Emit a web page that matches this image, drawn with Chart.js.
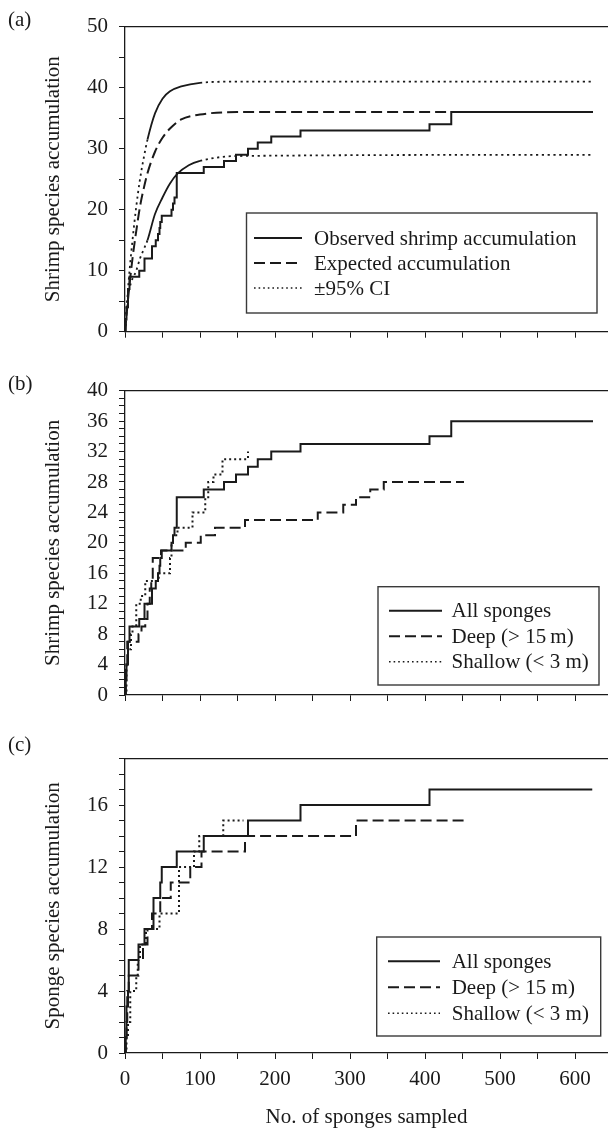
<!DOCTYPE html>
<html><head><meta charset="utf-8">
<script src="https://cdn.jsdelivr.net/npm/chart.js@4/dist/chart.umd.min.js"></script>
<style>
html,body{margin:0;padding:0;background:#fff;width:608px;height:1128px;overflow:hidden}
.wrap{position:absolute;left:0;width:608px}
canvas{display:block}
</style></head><body>
<div class="wrap" style="top:0;height:360px"><canvas id="ca"></canvas></div>
<div class="wrap" style="top:360px;height:375px"><canvas id="cb"></canvas></div>
<div class="wrap" style="top:735px;height:393px"><canvas id="cc"></canvas></div>
<script>
// ---------- DATA ----------
// Panel (a): shrimp species accumulation (observed steps; x = no. of sponges, y = species)
const obsX = [0, 1, 2, 4, 6, 19, 26, 36, 41, 44, 46, 47, 49, 62, 64, 66, 69, 105, 132, 148, 164, 177, 195, 234, 406, 435, 624];
const obsY = [0, 2, 4, 7, 9, 10, 12, 14, 15, 16, 17, 18, 19, 20, 21, 22, 26, 27, 28, 29, 30, 31, 32, 33, 34, 36, 36];
// Expected accumulation and 95% CI curves
const expX = [0, 5, 10, 15, 20, 25, 30, 40, 50, 60, 75, 100, 150, 624];
const expY = [0, 6.5, 12, 16.5, 20.5, 23.5, 26, 29.5, 31.8, 33.3, 34.8, 35.6, 36, 36];
const upX  = [0, 5, 10, 15, 20, 25, 30, 40, 50, 60, 75, 100, 150, 624];
const upY  = [0, 8.5, 15, 20.5, 25, 28.5, 31.5, 35.8, 38.2, 39.4, 40.2, 40.8, 41, 41];
const loX  = [0, 3, 8, 15, 20, 25, 30, 40, 50, 60, 70, 85, 100, 150, 624];
const loY  = [0, 5, 8, 10, 12, 13.5, 15, 19.3, 22, 24.3, 25.9, 27.3, 28, 28.8, 29];
// Panel (b): shrimp accumulation by depth
const deepX = [0, 1, 3, 18, 22, 27, 30, 33, 35, 37, 48, 81, 101, 120, 160, 257, 291, 308, 327, 345, 452];
const deepY = [0, 4, 7, 8, 9, 10, 12, 14, 15, 18, 19, 20, 21, 22, 23, 24, 25, 26, 27, 28, 28];
const shalX = [0, 2, 4, 8, 10, 15, 21, 27, 45, 60, 62, 64, 70, 90, 107, 111, 118, 130, 164];
const shalY = [0, 4, 6, 8, 9, 12, 13, 15, 16, 18, 20, 21, 22, 24, 26, 28, 29, 31, 32];
// Panel (c): sponge species accumulation
const spAllX  = [0, 1, 2, 4, 5, 18, 26, 38, 47, 49, 69, 105, 164, 234, 406, 623];
const spAllY  = [0, 1, 3, 4, 6, 7, 8, 10, 11, 12, 13, 14, 15, 16, 17, 17];
const spDeepX = [0, 1, 2, 3, 5, 18, 24, 30, 36, 47, 61, 87, 102, 160, 308, 456];
const spDeepY = [0, 1, 2, 4, 5, 6, 7, 8, 9, 10, 11, 12, 13, 14, 15, 15];
const spShalX = [0, 2, 4, 7, 15, 17, 20, 28, 46, 72, 92, 99, 131, 158];
const spShalY = [0, 1, 2, 4, 5, 6, 7, 8, 9, 12, 13, 14, 15, 15];
// Axis tick settings
const xTickStep = 50, xLabelEvery = 100;
const labelsA = ['Observed shrimp accumulation', 'Expected accumulation', '\u00b195% CI'];
const labelsBC = ['All sponges', 'Deep (> 15\u2009m)', 'Shallow (< 3 m)'];

// ---------- HELPERS ----------
const FONT = '"Liberation Serif", "Times New Roman", serif';
const INK = '#1a1a1a';
const pts = (xs, ys) => xs.map((x, i) => ({x, y: ys[i]}));
const SOLID = [], DASH = [11, 5], DOT = [2, 3];

const deco = {
  id: 'deco',
  afterDraw(chart, args, o) {
    const {ctx, chartArea: a} = chart;
    ctx.save();
    ctx.strokeStyle = INK; ctx.lineWidth = 1.3; ctx.setLineDash([]);
    ctx.beginPath(); ctx.moveTo(a.left - 0.5, a.top); ctx.lineTo(a.right, a.top); ctx.stroke();
    ctx.fillStyle = INK; ctx.font = '21px ' + FONT;
    ctx.textBaseline = 'middle'; ctx.textAlign = 'left';
    ctx.fillText(o.label, 8, o.labelY);
    const L = o.legend;
    ctx.strokeStyle = '#3a3a3a'; ctx.lineWidth = 1.4;
    ctx.strokeRect(L.x, L.y, L.w, L.h);
    L.items.forEach((it, i) => {
      const y = L.row0 + i * L.dy;
      ctx.strokeStyle = INK; ctx.lineWidth = it.w; ctx.setLineDash(it.dash);
      ctx.beginPath(); ctx.moveTo(L.sx0, y); ctx.lineTo(L.sx1, y); ctx.stroke();
      ctx.setLineDash([]);
      ctx.fillText(it.text, L.tx, y + 1);
    });
    ctx.restore();
  }
};

function axisCommon() {
  return {
    grid: {display: true, drawOnChartArea: false, drawTicks: true, tickLength: 6, color: INK, lineWidth: 1},
    border: {display: true, color: INK, width: 1.3}
  };
}

function makeChart(id, datasets, c) {
  return new Chart(document.getElementById(id), {
    type: 'line',
    data: {datasets},
    options: {
      responsive: true, maintainAspectRatio: false, animation: false, devicePixelRatio: 1,
      layout: {padding: {top: c.padTop, left: 0, right: 0, bottom: 0}},
      plugins: {legend: {display: false}, tooltip: {enabled: false}, deco: c.deco},
      elements: {point: {radius: 0}},
      scales: {
        x: Object.assign(axisCommon(), {
          type: 'linear', min: 0, max: 644,
          ticks: {stepSize: xTickStep, includeBounds: false, autoSkip: false, maxRotation: 0, padding: 8,
            color: INK, font: {family: FONT, size: 21},
            callback: v => (c.xLabels && v % xLabelEvery === 0) ? String(v) : ''},
          title: c.xTitle ? {display: true, text: c.xTitle, color: INK,
            font: {family: FONT, size: 21, lineHeight: 1}, padding: {top: 0, bottom: 0}} : {display: false},
          afterFit: s => { s.height = c.xH; }
        }),
        y: Object.assign(axisCommon(), {
          type: 'linear', min: 0, max: c.yMax,
          ticks: {stepSize: c.yStep, includeBounds: false, autoSkip: false, padding: 11,
            color: INK, font: {family: FONT, size: 21},
            callback: v => (v % c.yEvery === 0) ? String(v) : ''},
          title: {display: true, text: c.yTitle, color: INK,
            font: {family: FONT, size: 21, lineHeight: 1.2}, padding: {top: 41, bottom: 0}},
          afterFit: s => { s.width = 125; }
        })
      }
    },
    plugins: [deco]
  });
}

function stepDs(label, xs, ys, dash, w) {
  return {label, data: pts(xs, ys), stepped: true, borderColor: INK, borderWidth: w,
    borderDash: dash, fill: false, pointRadius: 0};
}
function curveDs(label, xs, ys, dash, w, solidFrom, solidTo) {
  const ds = {label, data: pts(xs, ys), borderColor: INK, borderWidth: w, borderDash: dash,
    cubicInterpolationMode: 'monotone', fill: false, pointRadius: 0};
  if (solidFrom !== undefined) {
    ds.segment = {borderDash: ctx => (ctx.p0.parsed.x >= solidFrom && ctx.p1.parsed.x <= solidTo) ? [] : dash};
  }
  return ds;
}

// Panel (a)
makeChart('ca', [
  stepDs(labelsA[0], obsX, obsY, SOLID, 2),
  curveDs(labelsA[1], expX, expY, DASH, 2),
  curveDs(labelsA[2], upX, upY, [2.2, 3.6], 1.8, 30, 100),
  curveDs(labelsA[2], loX, loY, [2.2, 3.6], 1.8, 30, 100)
], {padTop: 26.7, xH: 28.3, yMax: 50, yStep: 5, yEvery: 10, xLabels: false,
  yTitle: 'Shrimp species accumulation',
  deco: {label: '(a)', labelY: 20, legend: {x: 246.5, y: 213, w: 350.5, h: 100, row0: 238, dy: 25,
    sx0: 254, sx1: 302, tx: 314,
    items: [{text: labelsA[0], dash: SOLID, w: 2}, {text: labelsA[1], dash: DASH, w: 2}, {text: labelsA[2], dash: [1.6, 3], w: 1.5}]}}});

// Panel (b)
makeChart('cb', [
  stepDs(labelsBC[0], obsX, obsY, SOLID, 2),
  stepDs(labelsBC[1], deepX, deepY, DASH, 2),
  stepDs(labelsBC[2], shalX, shalY, DOT, 2)
], {padTop: 30.7, xH: 40, yMax: 40, yStep: 1, yEvery: 4, xLabels: false,
  yTitle: 'Shrimp species accumulation',
  deco: {label: '(b)', labelY: 24, legend: {x: 378, y: 226.7, w: 221, h: 98.3, row0: 250.7, dy: 25.5,
    sx0: 389, sx1: 442, tx: 451.5,
    items: [{text: labelsBC[0], dash: SOLID, w: 2}, {text: labelsBC[1], dash: DASH, w: 2}, {text: labelsBC[2], dash: [1.6, 3], w: 1.5}]}}});

// Panel (c)
makeChart('cc', [
  stepDs(labelsBC[0], spAllX, spAllY, SOLID, 2),
  stepDs(labelsBC[1], spDeepX, spDeepY, DASH, 2),
  stepDs(labelsBC[2], spShalX, spShalY, DOT, 2)
], {padTop: 13, xH: 75, yMax: 19, yStep: 1, yEvery: 4, xLabels: true,
  xTitle: 'No. of sponges sampled',
  yTitle: 'Sponge species accumulation',
  deco: {label: '(c)', labelY: 10.7, legend: {x: 376.7, y: 202, w: 224, h: 99, row0: 226.3, dy: 26,
    sx0: 388, sx1: 440, tx: 451.7,
    items: [{text: labelsBC[0], dash: SOLID, w: 2}, {text: labelsBC[1].replace('\u2009', ' '), dash: DASH, w: 2}, {text: labelsBC[2], dash: [1.6, 3], w: 1.5}]}}});
</script>
</body></html>
